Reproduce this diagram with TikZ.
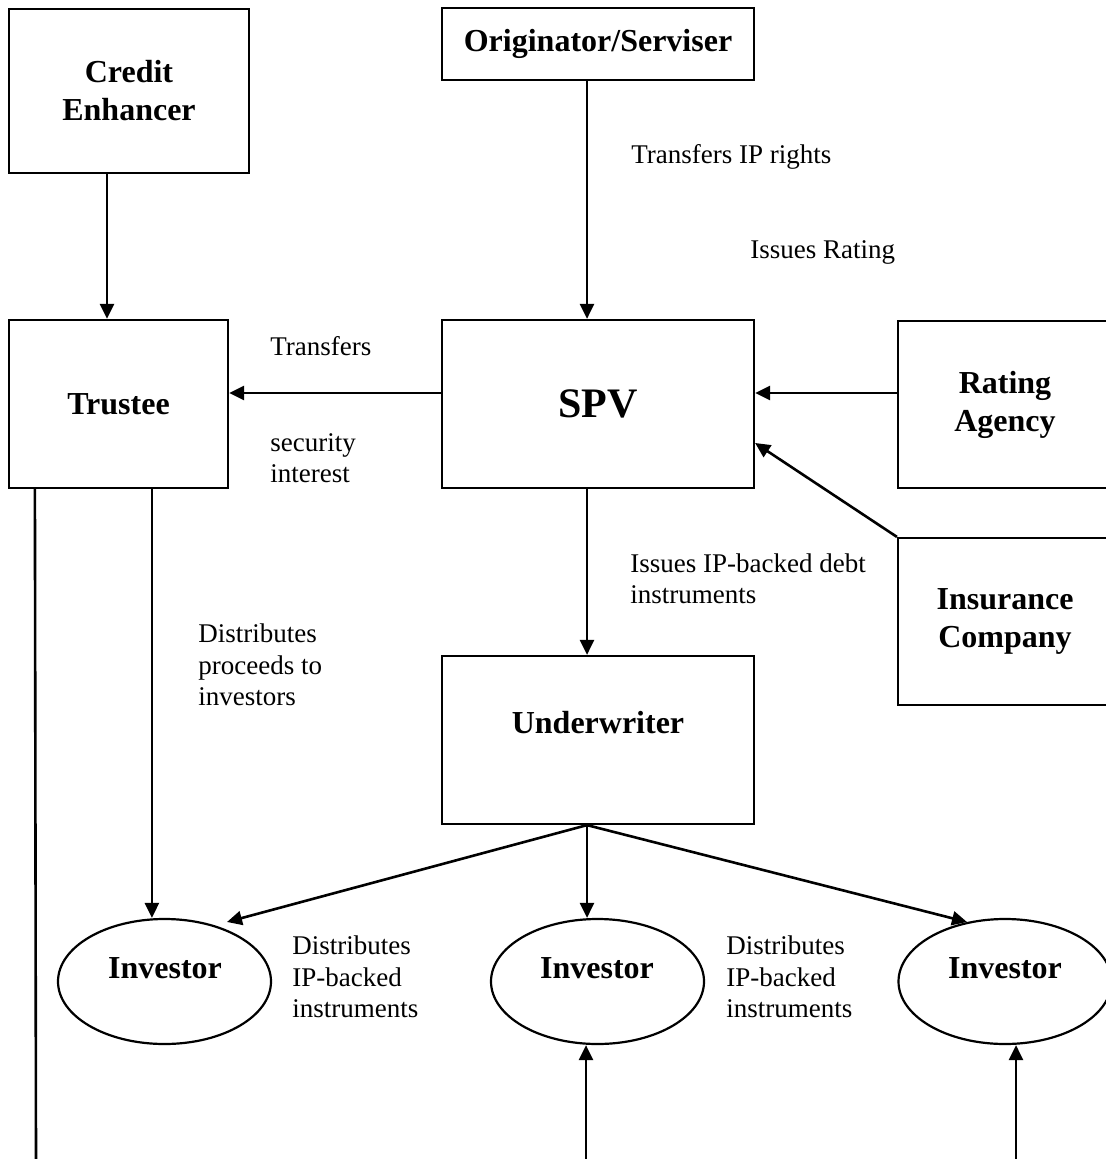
\documentclass[tikz,border=0pt]{standalone}
\usepackage{fontspec}
\setmainfont{Liberation Serif}
\usetikzlibrary{arrows.meta,shapes.geometric,calc}
\newcommand\boxfont{\fontsize{16}{19}\selectfont\bfseries}
\newcommand\lblfont{\fontsize{13.5}{15.75}\selectfont}
\newcommand\spvfont{\fontsize{21}{25}\selectfont\bfseries}
\begin{document}
\begin{tikzpicture}[x=0.5pt,y=-0.5pt,
  box/.style={draw, line width=1.1pt, rectangle, inner sep=0pt, align=center, font=\boxfont},
  inv/.style={draw, line width=1.1pt, ellipse, inner sep=0pt, minimum width=106.5pt, minimum height=62.5pt},
  invtxt/.style={font=\boxfont, inner sep=0pt},
  arr/.style={line width=1.3pt, -{Triangle[length=7.5pt,width=7pt]}},
  plain/.style={line width=1.3pt},
  lbl/.style={anchor=west, inner sep=0pt, align=left, font=\lblfont}]
\useasboundingbox (0,0) rectangle (1105,1159);
% boxes
\node[box, minimum width=120pt, minimum height=82pt] (ce) at (129,91) {Credit\\Enhancer};
\node[box, minimum width=156pt, minimum height=36pt] (orig) at (598,44) {Originator/Serviser};
\node[box, minimum width=109.5pt, minimum height=84pt] (tr) at (118.5,404) {Trustee};
\node[box, minimum width=156pt, minimum height=84pt, font=\spvfont] (spv) at (598,404) {SPV};
\node[box, minimum width=107pt, minimum height=83.5pt] (ra) at (1005,404.5) {Rating\\Agency};
\node[box, minimum width=107pt, minimum height=83.5pt] (ins) at (1005,621.5) {Insurance\\Company};
\node[box, minimum width=156pt, minimum height=84pt] (uw) at (598,740) {};
\node[invtxt] (uwt) at (598,723) {Underwriter};
% investors
\node[inv] (inv1) at (164.5,981.5) {};
\node[inv] (inv2) at (597.5,981.5) {};
\node[inv] (inv3) at (1005,981.5) {};
\node[invtxt] (inv1t) at (165,968) {Investor};
\node[invtxt] (inv2t) at (597,968) {Investor};
\node[invtxt] (inv3t) at (1005,968) {Investor};
% labels
\node[lbl] (l1) at (631,157) {Transfers IP rights};
\node[lbl] (l2) at (750,252) {Issues Rating};
\node[lbl] (l3) at (270,346) {Transfers};
\node[lbl] (l4) at (270,458) {security\\interest};
\node[lbl] (l5) at (630,579) {Issues IP-backed debt\\instruments};
\node[lbl] (l6) at (198,665) {Distributes\\proceeds to\\investors};
\node[lbl] (l7) at (292,977) {Distributes\\IP-backed\\instruments};
\node[lbl] (l8) at (726,977) {Distributes\\IP-backed\\instruments};
% coordinates
\coordinate (uwb) at ([xshift=-5.5pt]uw.south);
\coordinate (t1) at ([xshift=72pt]tr.south west);
\coordinate (t0) at ([xshift=13.5pt]tr.south west);
\coordinate (b1) at (36,1159);
\coordinate (b2) at (586,1159);
\coordinate (b3) at (1016,1159);
% connectors
\draw[arr] ([xshift=-11pt]ce.south) -- ([xshift=-5.75pt]tr.north);
\draw[arr] ([xshift=-5.5pt]orig.south) -- ([xshift=-5.5pt]spv.north);
\draw[arr] ([yshift=5.5pt]spv.west) -- ([yshift=5.5pt]tr.east);
\draw[arr] ([yshift=5.75pt]ra.west) -- ([yshift=5.5pt]spv.east);
\draw[arr] (ins.north west) -- ([yshift=-19.5pt]spv.east);
\draw[arr] ([xshift=-5.5pt]spv.south) -- ([xshift=-5.5pt]uw.north);
\draw[arr] (uwb) -- ($(inv1.center)+(62.5,-59.5)$);
\draw[arr] (uwb) -- (uwb |- inv2.north);
\draw[arr] (uwb) -- ($(inv3.center)+(-38,-59.5)$);
\draw[arr] (t1) -- (t1 |- inv1.north);
\draw[plain] (t0) -- (b1);
\draw[arr] (b2) -- (b2 |- inv2.south);
\draw[arr] (b3) -- (b3 |- inv3.south);
\end{tikzpicture}
\end{document}
